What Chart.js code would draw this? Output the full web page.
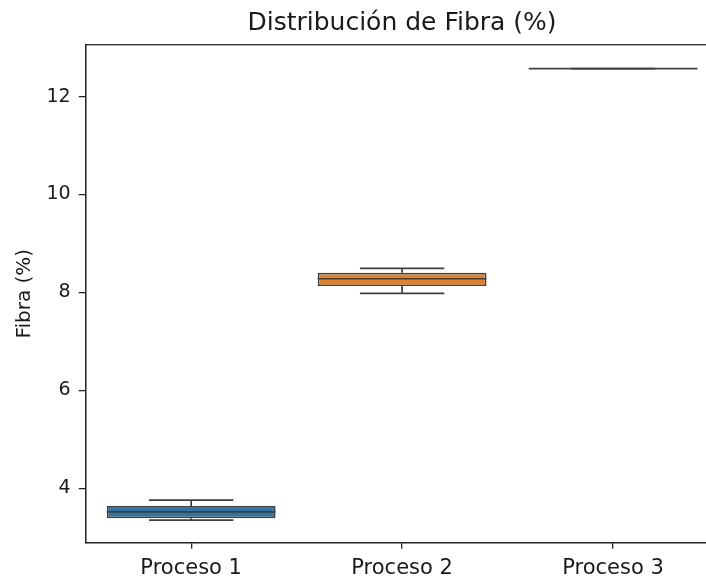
<!DOCTYPE html>
<html>
<head>
<meta charset="utf-8">
<script src="https://cdn.jsdelivr.net/npm/chart.js@4"></script>
<style>
    body { margin: 0; background: #fff; overflow: hidden; }
    #wrap { width: 706px; height: 578px; overflow: hidden; }
</style>
</head>
<body>
<div id="wrap"><canvas id="boxCanvas" width="804" height="578"></canvas></div>
<script>
    // datos
    var categorias = ['Proceso 1', 'Proceso 2', 'Proceso 3'];
    var minimos = [3.35, 7.98, 12.57];
    var q1 = [3.39, 8.13, 12.57];
    var medianas = [3.52, 8.28, 12.57];
    var q3 = [3.64, 8.40, 12.57];
    var maximos = [3.76, 8.49, 12.57];
    var yTicks = [4, 6, 8, 10, 12];

    var colores = ['#3274a1', '#e1812c', '#3a923a'];
    var gris = '#3f3f3f';
    var texto = '#1a1a1a';

    // bigotes, medianas y marco
    var boxPlugin = {
        id: 'boxExtras',
        afterDatasetsDraw: function (chart) {
            var ctx = chart.ctx;
            var y = chart.scales.y;
            var meta = chart.getDatasetMeta(0);
            ctx.save();
            ctx.strokeStyle = gris;
            ctx.lineWidth = 1.7;
            categorias.forEach(function (c, i) {
                var bar = meta.data[i];
                var cx = bar.x;
                var half = bar.width / 2;
                var cap = half / 2;
                ctx.beginPath();
                // bigote superior
                ctx.moveTo(cx, y.getPixelForValue(q3[i]));
                ctx.lineTo(cx, y.getPixelForValue(maximos[i]));
                ctx.moveTo(cx - cap, y.getPixelForValue(maximos[i]));
                ctx.lineTo(cx + cap, y.getPixelForValue(maximos[i]));
                // bigote inferior
                ctx.moveTo(cx, y.getPixelForValue(q1[i]));
                ctx.lineTo(cx, y.getPixelForValue(minimos[i]));
                ctx.moveTo(cx - cap, y.getPixelForValue(minimos[i]));
                ctx.lineTo(cx + cap, y.getPixelForValue(minimos[i]));
                ctx.stroke();
                // mediana
                ctx.beginPath();
                ctx.moveTo(cx - half, y.getPixelForValue(medianas[i]));
                ctx.lineTo(cx + half, y.getPixelForValue(medianas[i]));
                ctx.stroke();
            });
            // marco
            var a = chart.chartArea;
            ctx.strokeStyle = '#262626';
            ctx.lineWidth = 1.3;
            ctx.strokeRect(a.left, a.top, a.right - a.left, a.bottom - a.top);
            ctx.restore();
        }
    };

    var cajas = categorias.map(function (c, i) {
        return [q1[i], q3[i]];
    });

    window.onload = function () {
        var ctx = document.getElementById('boxCanvas').getContext('2d');
        window.myBox = new Chart(ctx, {
            type: 'bar',
            data: {
                labels: categorias,
                datasets: [{
                    data: cajas,
                    backgroundColor: colores,
                    borderColor: gris,
                    borderWidth: 1.7,
                    borderSkipped: false,
                    categoryPercentage: 0.8,
                    barPercentage: 1.0
                }]
            },
            options: {
                responsive: false,
                animation: false,
                layout: { padding: 0 },
                plugins: {
                    legend: { display: false },
                    tooltip: { enabled: false },
                    title: {
                        display: true,
                        text: 'Distribución de Fibra (%)',
                        color: texto,
                        font: { family: 'DejaVu Sans', size: 25, weight: 'normal' },
                        padding: { top: 8, bottom: 6.7 }
                    }
                },
                scales: {
                    x: {
                        grid: { display: true, offset: false, drawOnChartArea: false, drawTicks: true, tickLength: 6, color: '#262626', lineWidth: 1.3 },
                        border: { display: true, color: '#262626', width: 1.3 },
                        ticks: {
                            color: texto,
                            padding: 7,
                            font: { family: 'DejaVu Sans', size: 21 }
                        },
                        afterFit: function (scale) { scale.height = 35.3; }
                    },
                    y: {
                        min: 2.889,
                        max: 13.06,
                        grid: { display: true, drawOnChartArea: false, drawTicks: true, tickLength: 7, color: '#262626', lineWidth: 1.3 },
                        border: { display: true, color: '#262626', width: 1.3 },
                        afterBuildTicks: function (scale) {
                            scale.ticks = yTicks.map(function (v) { return { value: v }; });
                        },
                        ticks: {
                            color: texto,
                            padding: 8,
                            font: { family: 'DejaVu Sans', size: 19 }
                        },
                        title: {
                            display: true,
                            text: 'Fibra (%)',
                            color: texto,
                            font: { family: 'DejaVu Sans', size: 20 },
                            padding: { top: 13, bottom: 0 }
                        },
                        afterFit: function (scale) { scale.width = 85.7; }
                    },
                    // eje vacío a la derecha para centrar el título sobre el área
                    yDer: {
                        position: 'right',
                        min: 0,
                        max: 1,
                        grid: { display: false },
                        border: { display: false },
                        ticks: { display: false },
                        afterFit: function (scale) { scale.width = 85.5; }
                    }
                }
            },
            plugins: [boxPlugin]
        });
    };
</script>
</body>
</html>
